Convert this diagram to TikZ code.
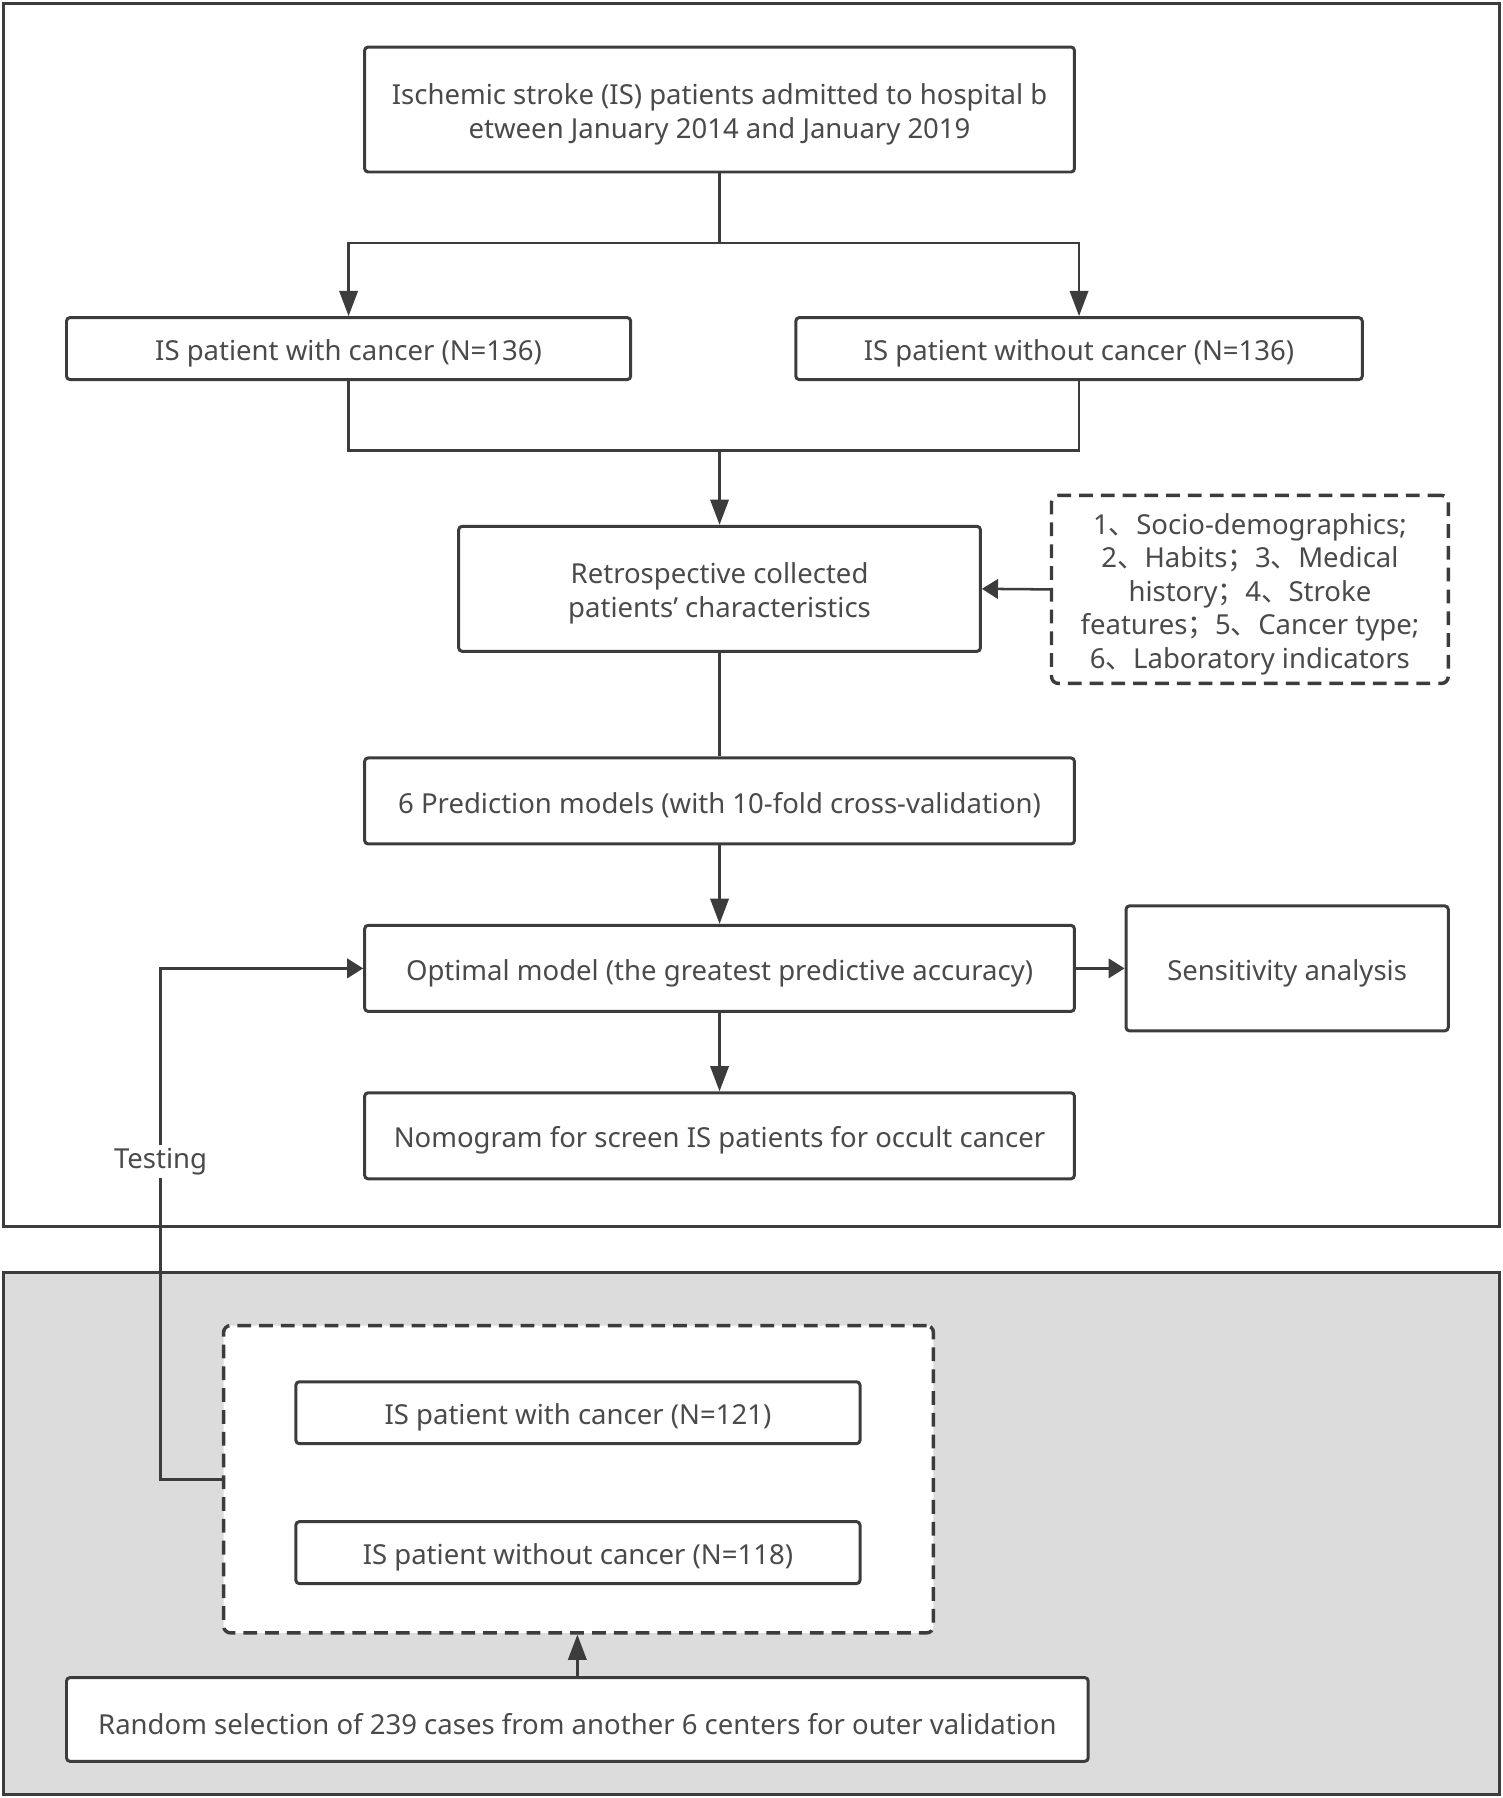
\documentclass[tikz,border=0pt]{standalone}
\usepackage{fontspec}
\setmainfont{Noto Sans}
\newfontfamily\cjk{Noto Sans CJK SC}
\usetikzlibrary{arrows.meta}
\definecolor{ink}{HTML}{3C3C3C}
\definecolor{txt}{HTML}{4A4A4A}
\definecolor{panel}{HTML}{DCDCDC}
\newcommand{\topstrut}{\rule{0pt}{1.1em}}
\begin{document}
\begin{tikzpicture}[x=0.5pt,y=-0.5pt,
  font=\fontsize{12}{14.6}\selectfont, text=txt,
  box/.style={draw=ink, line width=1.3pt, rounded corners=1.5pt, fill=white, inner sep=0pt, align=center, execute at begin node={\topstrut}},
  dbox/.style={draw=ink, line width=1.5pt, dash pattern=on 6pt off 3.5pt, rounded corners=3pt, fill=white, inner sep=0pt, align=center},
  frame/.style={draw=ink, line width=1.3pt},
  conn/.style={draw=ink, line width=1.1pt},
  arr/.style={conn, -{Triangle[length=11pt,width=8pt]}},
  arrs/.style={conn, -{Triangle[length=7pt,width=8.5pt]}},
  sz/.style 2 args={minimum width=#1*0.5pt, minimum height=#2*0.5pt}]
\useasboundingbox (0,0) rectangle (1310,1568);
\draw[frame, fill=white] (3,3) rectangle (1308,1070);
\draw[frame, fill=panel] (3,1110) rectangle (1308,1565);

\node[box, sz={619}{109}] (b1) at (627.5,95.5) {\topstrut Ischemic stroke (IS) patients admitted to hospital b\\etween January 2014 and January 2019};
\node[box, sz={492}{54}] (b2) at (304,304) {IS patient with cancer (N=136)};
\node[box, sz={494}{54}] (b3) at (941,304) {IS patient without cancer (N=136)};
\node[box, sz={455}{109}] (b4) at (627.5,513.5) {\topstrut Retrospective collected\\patients' characteristics};
\node[dbox, sz={346}{164}] (d1) at (1090,514) {\topstrut 1{\cjk 、}Socio-demographics;\\2{\cjk 、}Habits{\cjk ；}3{\cjk 、}Medical\\history{\cjk ；}4{\cjk 、}Stroke\\features{\cjk ；}5{\cjk 、}Cancer type;\\6{\cjk 、}Laboratory indicators};
\node[box, sz={619}{75}] (b5) at (627.5,698.5) {6 Prediction models (with 10-fold cross-validation)};
\node[box, sz={619}{75}] (b6) at (627.5,844.5) {Optimal model (the greatest predictive accuracy)};
\node[box, sz={281}{109}] (s1) at (1122.5,844.5) {Sensitivity analysis};
\node[box, sz={619}{75}] (b7) at (627.5,990.5) {Nomogram for screen IS patients for occult cancer};
\node[dbox, sz={619}{268}] (d2) at (504.5,1290) {};
\node[box, sz={492}{54}] (b8) at (504,1232) {IS patient with cancer (N=121)};
\node[box, sz={492}{54}] (b9) at (504,1354) {IS patient without cancer (N=118)};
\node[box, sz={891}{73}] (b10) at (503.5,1499.5) {Random selection of 239 cases from another 6 centers for outer validation};

\coordinate (j1) at (627.5,212);
\coordinate (j2) at (627.5,393);
\coordinate (t1) at (140,1290);
\draw[conn] (b1.south) -- (j1);
\draw[arr] (j1) -| (b2.north);
\draw[arr] (j1) -| (b3.north);
\draw[conn] (b2.south) |- (j2);
\draw[conn] (b3.south) |- (j2);
\draw[arr] (j2) -- (b4.north);
\draw[arrs] (d1.west) -- (b4.east);
\draw[conn] (b4.south) -- (b5.north);
\draw[arr] (b5.south) -- (b6.north);
\draw[arr] (b6.south) -- (b7.north);
\draw[arrs] (b6.east) -- (s1.west);
\draw[arrs] (d2.west) -- (t1) |- (b6.west);
\draw[arr] (b10.north) -- (b10.north |- d2.south);
\node[fill=white, inner sep=1.5pt] (test) at (140,1013) {Testing};
\end{tikzpicture}
\end{document}
